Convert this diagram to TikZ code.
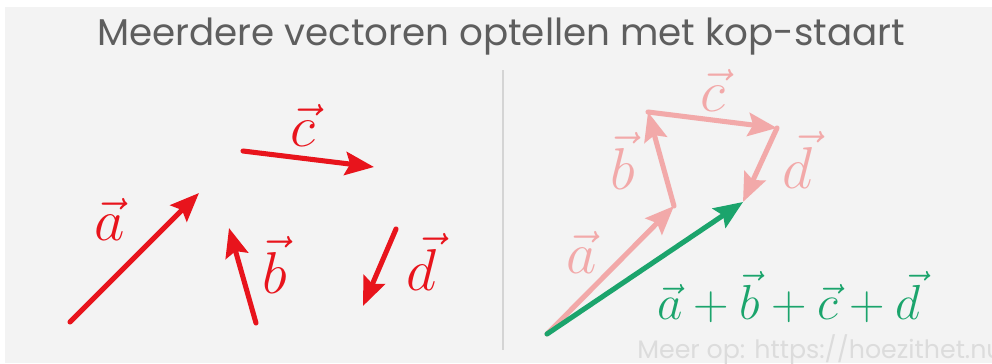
\RequirePackage{fix-cm}
\documentclass[tikz,border=0pt]{standalone}
\usepackage{fontspec}
\setsansfont{Poppins}
\usetikzlibrary{arrows.meta}
\definecolor{vecred}{HTML}{E8141C}
\definecolor{vecpink}{HTML}{F2A9A9}
\definecolor{vecgreen}{HTML}{1BA46C}
\definecolor{bggray}{HTML}{F3F3F3}
\definecolor{titlegray}{HTML}{5E5E5E}
\definecolor{divgray}{HTML}{D4D4D4}
\definecolor{wmgray}{HTML}{DCDCDC}
\begin{document}
\begin{tikzpicture}[x=0.025cm,y=-0.025cm,
        vec/.style={line width=3.6pt, line cap=round, -{Stealth[length=0.72cm,width=0.58cm,inset=0.12cm]}},
        lbl/.style={font=\fontsize{42}{42}\selectfont},
        sumlbl/.style={font=\fontsize{35}{35}\selectfont}]
        % canvas
            \clip (0,0) rectangle (992,363);
            \fill[white] (0,0) rectangle (992,363);
            \fill[bggray] (5,7) rectangle (992,363);
            \node[text=titlegray, font=\sffamily\fontsize{26.5}{26.5}\selectfont] (title) at (501,37) {Meerdere vectoren optellen met kop-staart};
            \draw[divgray, line width=1.2pt] (503,70) -- (503,350);
        % loose vectors
            \coordinate (a0) at (70,322);  \coordinate (a1) at (199,193);
            \coordinate (b0) at (256,323); \coordinate (b1) at (229,228);
            \coordinate (c0) at (243,151); \coordinate (c1) at (374,167);
            \coordinate (d0) at (396,229); \coordinate (d1) at (363,306);
            \foreach \v in {a,b,c,d}{
                \draw[vec, vecred] (\v0) -- (\v1);
            }
            \node[lbl, text=vecred] (la) at (110,219) {$\vec{a}$};
            \node[lbl, text=vecred] (lb) at (275,265) {$\vec{b}$};
            \node[lbl, text=vecred] (lc) at (303,125) {$\vec{c}$};
            \node[lbl, text=vecred] (ld) at (422,262) {$\vec{d}$};
        % head to tail
            \coordinate (p0) at (547,334);
            \coordinate (p1) at (674,206);
            \coordinate (p2) at (648,112);
            \coordinate (p3) at (777,128);
            \coordinate (p4) at (743,202);
            \foreach \i/\j in {0/1,1/2,2/3,3/4}{
                \draw[vec, vecpink] (p\i) -- (p\j);
            }
            \draw[vec, vecgreen] (p0) -- (p4);
            \node[lbl, text=vecpink] (ra) at (582,252) {$\vec{a}$};
            \node[lbl, text=vecpink] (rb) at (623,161) {$\vec{b}$};
            \node[lbl, text=vecpink] (rc) at (713,90) {$\vec{c}$};
            \node[lbl, text=vecpink] (rd) at (798,160) {$\vec{d}$};
            \node[sumlbl, text=vecgreen] (sum) at (789,297) {$\vec{a}+\vec{b}+\vec{c}+\vec{d}$};
        % source
            \node[anchor=base west, inner sep=0pt, text=wmgray, font=\sffamily\fontsize{18}{18}\selectfont] (wm) at (637,358) {Meer op: https://hoezithet.nu};
        \end{tikzpicture}
\end{document}
